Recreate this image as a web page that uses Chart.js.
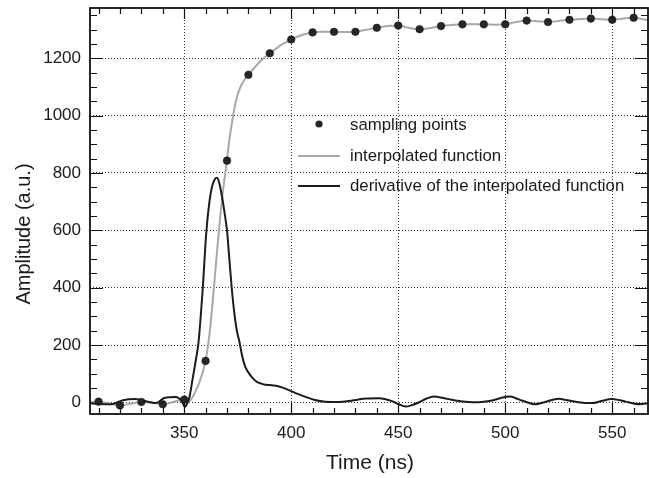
<!DOCTYPE html>
<html><head><meta charset="utf-8">
<script src="https://cdn.jsdelivr.net/npm/chart.js@4/dist/chart.umd.min.js"></script>
<style>html,body{margin:0;padding:0;background:#fff;}#wrap{width:649px;height:478px;position:relative;}</style>
</head><body><div id="wrap"><canvas id="c" width="649" height="478"></canvas></div>
<script>
// Sampling points (ns, a.u.)
const sampleTimes  = [310,320,330,340,350,360,370,380,390,400,410,420,430,440,450,460,470,480,490,500,510,520,530,540,550,560];
const sampleValues = [3,-10,2,-6,10,145,843,1142,1217,1265,1290,1292,1292,1306,1314,1301,1312,1318,1318,1318,1331,1326,1334,1338,1334,1341];

// Interpolated function
const interpTimes  = [306,310,315,320,325,330,335,340,345,350,352,354,356,358,360,362,364,366,368,370,371,372,374,376,378,380,385,390,395,400,405,410,415,420,425,430,435,440,445,450,455,460,465,470,475,480,485,490,495,500,505,510,515,520,525,530,535,540,545,550,555,560,565,567];
const interpValues = [2,3,-4,-10,-4,2,0,-6,2,10,3,20,50,90,145,250,410,580,730,843,910,960,1045,1095,1123,1142,1185,1217,1245,1265,1281,1290,1292,1292,1291,1292,1299,1306,1312,1314,1306,1301,1305,1312,1316,1318,1318,1318,1317,1318,1326,1331,1329,1326,1330,1334,1337,1338,1336,1334,1338,1341,1335,1332];

// Derivative of the interpolated function
const derivTimes  = [306,310,316,321,327,333,337,341,346,349,350.3,351.5,352.5,354,355.5,356.7,358.7,360.3,361.8,363,364.3,365.3,366.3,367.5,369,370,371,372.2,373.3,374.5,376,377,378.5,380,382,384,386,388,391,394,396,400,403,407,411,416,422,427,431,435,441,447.4,450,453.6,456,459.8,463,466.7,471,476.8,484.5,489,493.9,498,502.4,505,507.8,514,519,524.9,529,534.2,540.4,545,549.7,553,555.9,562.9,567];
const derivValues = [-2,-5,-6,7,12,3,-2,17,19,3,-15,-2,20,85,150,210,400,590,700,752,778,783,768,725,655,600,510,400,320,255,205,165,125,105,85,72,66,62,60,57,52,40,30,19,9,3,2,5,10,14,15,4,-5,-14,-10,1,13,21,16,7,1,2,7,16,21,15,7,-6,3,13,8,1,-2,5,12,9,4,-6,-2];

// Tick labels
const xTickLabels = [350,400,450,500,550];
const yTickLabels = [0,200,400,600,800,1000,1200];

const FONT = '"Liberation Sans", Arial, Helvetica, sans-serif';
const pts = (xs, ys) => xs.map((x, i) => ({x: x, y: ys[i]}));

const framePlugin = {
  id: 'frame',
  afterDraw(chart) {
    const {ctx, chartArea: a, scales: {x, y}} = chart;
    ctx.save();
    ctx.strokeStyle = '#111';
    ctx.lineWidth = 1.2;
    ctx.beginPath();
    for (let v = 310; v <= 566; v += 10) {
      const px = Math.round(x.getPixelForValue(v)) + 0.5;
      const len = (v % 50 === 0) ? 11 : 6;
      ctx.moveTo(px, a.bottom); ctx.lineTo(px, a.bottom - len);
      ctx.moveTo(px, a.top); ctx.lineTo(px, a.top + len);
    }
    for (let v = 0; v <= 1375; v += 50) {
      const py = Math.round(y.getPixelForValue(v)) + 0.5;
      const len = (v % 200 === 0) ? 13 : 7;
      ctx.moveTo(a.left, py); ctx.lineTo(a.left + len, py);
      ctx.moveTo(a.right, py); ctx.lineTo(a.right - len, py);
    }
    ctx.stroke();
    ctx.lineWidth = 1.8;
    ctx.strokeRect(a.left, a.top, a.right - a.left, a.bottom - a.top);

    ctx.fillStyle = '#1a1a1a';
    ctx.textAlign = 'center';
    ctx.textBaseline = 'middle';
    ctx.font = '21px ' + FONT;
    ctx.fillText('Time (ns)', (a.left + a.right) / 2 + 1, 463);
    ctx.save();
    ctx.translate(24, 234);
    ctx.rotate(-Math.PI / 2);
    ctx.font = '20px ' + FONT;
    ctx.fillText('Amplitude (a.u.)', 0, 0);
    ctx.restore();

    const ds = chart.data.datasets;
    ctx.font = '16.8px ' + FONT;
    ctx.textAlign = 'left';
    ctx.fillStyle = ds[0].pointBackgroundColor;
    ctx.beginPath(); ctx.arc(319, 124, 3.6, 0, Math.PI * 2); ctx.fill();
    ctx.lineWidth = 2;
    ctx.strokeStyle = ds[2].borderColor;
    ctx.beginPath(); ctx.moveTo(298, 156); ctx.lineTo(340, 156); ctx.stroke();
    ctx.strokeStyle = ds[1].borderColor;
    ctx.beginPath(); ctx.moveTo(298, 186); ctx.lineTo(340, 186); ctx.stroke();
    ctx.fillStyle = '#1a1a1a';
    ctx.fillText(ds[0].label, 350, 125);
    ctx.fillText(ds[2].label, 350, 156);
    ctx.fillText(ds[1].label, 350, 186);
    ctx.restore();
  }
};

new Chart(document.getElementById('c'), {
  type: 'line',
  data: {
    datasets: [
      {label: 'sampling points', data: pts(sampleTimes, sampleValues), showLine: false,
       pointRadius: 3.8, pointBackgroundColor: '#262626', pointBorderColor: '#111', pointBorderWidth: 0.5},
      {label: 'derivative of the interpolated function', data: pts(derivTimes, derivValues),
       borderColor: '#1c1c1c', borderWidth: 2, pointRadius: 0, cubicInterpolationMode: 'monotone'},
      {label: 'interpolated function', data: pts(interpTimes, interpValues),
       borderColor: '#a8a8a8', borderWidth: 2, pointRadius: 0, cubicInterpolationMode: 'monotone'}
    ]
  },
  options: {
    responsive: false, animation: false, devicePixelRatio: 1,
    layout: {autoPadding: false, padding: {top: 8, right: 1, left: 0, bottom: 0}},
    plugins: {legend: {display: false}, tooltip: {enabled: false}},
    scales: {
      x: {type: 'linear', min: 306, max: 566.7,
          afterBuildTicks: s => { s.ticks = xTickLabels.map(v => ({value: v})); },
          afterFit: s => { s.height = 64; s.paddingLeft = 0; s.paddingRight = 0; },
          grid: {color: '#3a3a3a', lineWidth: 1, drawTicks: false},
          border: {display: false, dash: [1, 2]},
          ticks: {padding: 9, color: '#1a1a1a', font: {family: FONT, size: 17}, maxRotation: 0,
                  callback: v => String(v)}},
      y: {type: 'linear', min: -40, max: 1375,
          afterBuildTicks: s => { s.ticks = yTickLabels.map(v => ({value: v})); },
          afterFit: s => { s.width = 90; s.paddingTop = 0; s.paddingBottom = 0; },
          grid: {color: '#3a3a3a', lineWidth: 1, drawTicks: false},
          border: {display: false, dash: [1, 2]},
          ticks: {padding: 9, color: '#1a1a1a', font: {family: FONT, size: 17},
                  callback: v => String(v)}}
    }
  },
  plugins: [framePlugin]
});
</script>
</body></html>
